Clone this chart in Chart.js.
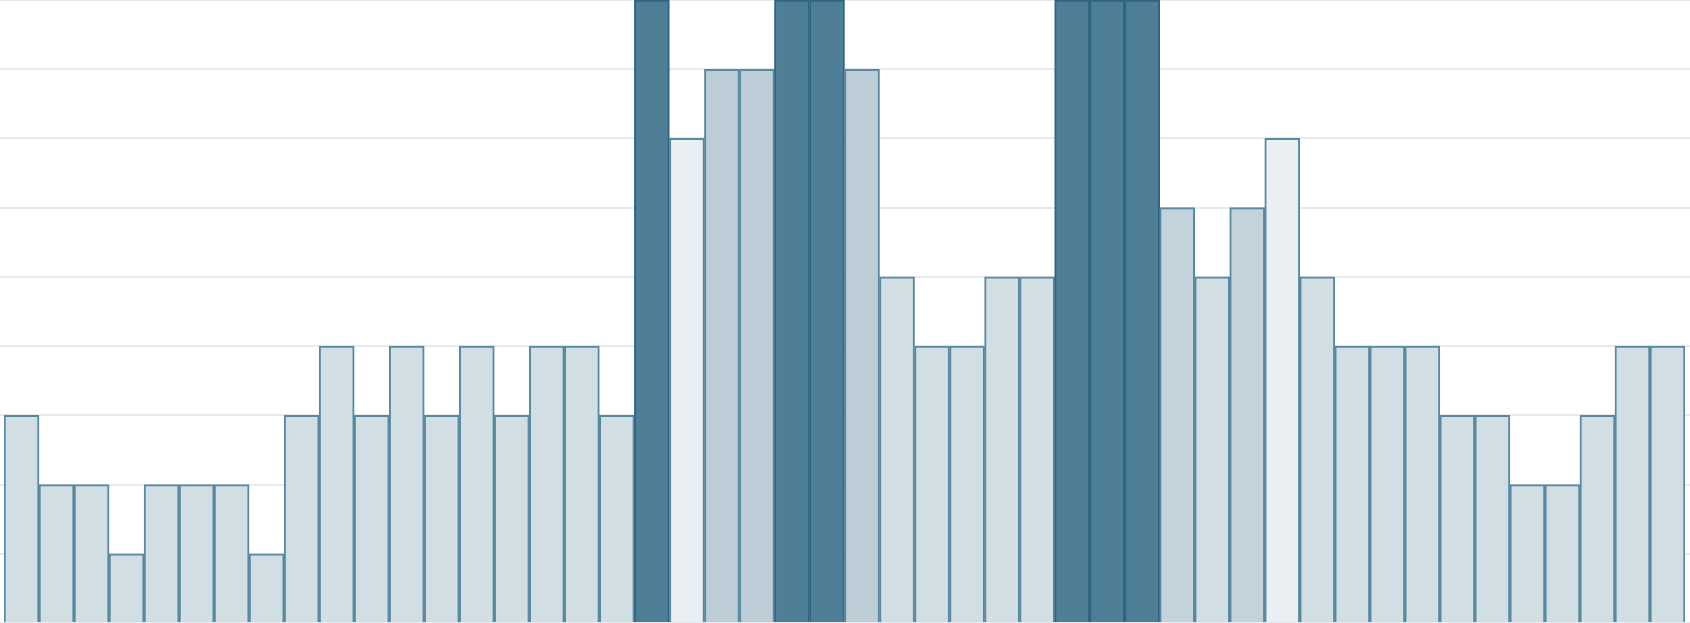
<!DOCTYPE html>
<html>
<head>
<meta charset="utf-8">
<script src="https://cdn.jsdelivr.net/npm/chart.js@4"></script>
<style>
html,body{margin:0;padding:0;background:#fff;}
#wrap{width:1690px;height:623px;}
</style>
</head>
<body>
<div id="wrap"><canvas id="c" width="1690" height="623"></canvas></div>
<script>
const categories = Array.from({length:48},(_,i)=>String(i+1));
const values = [3,2,2,1,2,2,2,1,3,4,3,4,3,4,3,4,4,3,9,7,8,8,9,9,8,5,4,4,5,5,9,9,9,6,5,6,7,5,4,4,4,3,3,2,2,3,4,4];
const yTicks = [0,1,2,3,4,5,6,7,8,9];

function fillFor(v){
  if(v>=9) return '#4e7f97';
  if(v===8) return '#bccdd7';
  if(v===7) return '#e9eff2';
  if(v===6) return '#c3d3db';
  return '#d1dee4';
}
function borderFor(v){
  return v>=9 ? '#2f6580' : '#5a899f';
}

new Chart(document.getElementById('c'),{
  type:'bar',
  data:{
    labels:categories,
    datasets:[{
      data:values,
      backgroundColor:values.map(fillFor),
      borderColor:values.map(borderFor),
      borderWidth:2,
      barPercentage:1,
      categoryPercentage:1
    }]
  },
  options:{
    responsive:false,
    animation:false,
    layout:{padding:0},
    plugins:{legend:{display:false},tooltip:{enabled:false}},
    scales:{
      x:{display:false},
      y:{
        min:0,max:9,
        afterBuildTicks:(s)=>{s.ticks=yTicks.map(v=>({value:v}));},
        ticks:{display:false},
        border:{display:false},
        grid:{color:'#e3ebef',lineWidth:2,tickLength:4,drawTicks:true}
      },
      y2:{
        position:'right',
        min:0,max:9,
        afterBuildTicks:(s)=>{s.ticks=yTicks.map(v=>({value:v}));},
        ticks:{display:false},
        border:{display:false},
        grid:{color:'#e3ebef',lineWidth:2,tickLength:5,drawTicks:true,drawOnChartArea:false}
      }
    }
  }
});
</script>
</body>
</html>
